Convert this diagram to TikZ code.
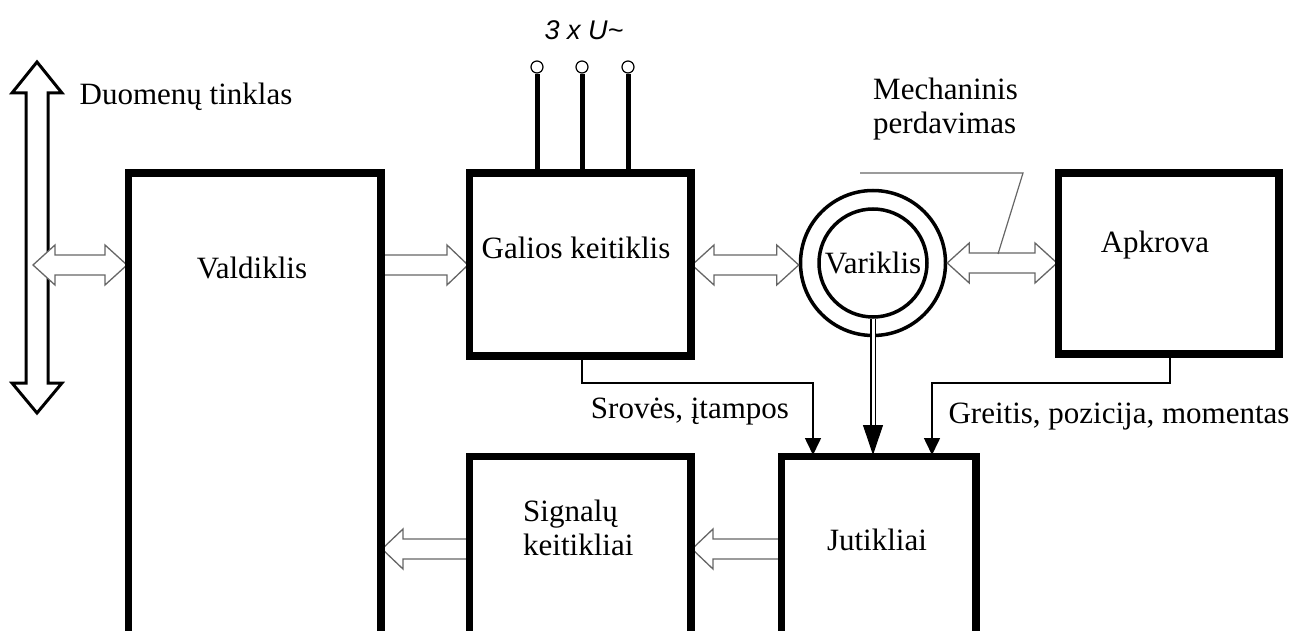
\documentclass[tikz,border=0pt]{standalone}
\usepackage{fontspec}
\setmainfont{Liberation Serif}
\newfontfamily\arialfont{Liberation Sans}
\usetikzlibrary{calc,arrows.meta}
% horizontal fat arrow: #1 start, #2 tip (same y)
\newcommand\fatSingle[2]{%
  \draw[fat] let \p1=(#1), \p2=(#2), \n1={sign(\x2-\x1)} in
   (\x1,\y1+10pt) -- (\x2-\n1*21pt,\y1+10pt) -- (\x2-\n1*21pt,\y1+20pt) -- (\x2,\y1)
   -- (\x2-\n1*21pt,\y1-20pt) -- (\x2-\n1*21pt,\y1-10pt) -- (\x1,\y1-10pt) -- cycle;}
% horizontal fat double arrow: #1 left tip, #2 right tip
\newcommand\fatDouble[2]{%
  \draw[fat] let \p1=(#1), \p2=(#2) in
   (\x1,\y1) -- (\x1+22pt,\y1+20pt) -- (\x1+22pt,\y1+10pt) -- (\x2-22pt,\y1+10pt)
   -- (\x2-22pt,\y1+20pt) -- (\x2,\y1) -- (\x2-22pt,\y1-20pt) -- (\x2-22pt,\y1-10pt)
   -- (\x1+22pt,\y1-10pt) -- (\x1+22pt,\y1-20pt) -- cycle;}
\begin{document}
\begin{tikzpicture}[x=1pt,y=-1pt,
  box/.style={draw,line width=5pt,inner sep=0pt,anchor=north west},
  fat/.style={draw=black!60,line width=1.3pt,fill=white,line join=miter},
  bigfat/.style={draw=black,line width=3pt,fill=white,line join=miter},
  lbl/.style={font=\fontsize{31}{34}\selectfont,inner sep=0pt},
  wire/.style={line width=1.6pt},
  sarrow/.style={-{Triangle[length=17pt,width=16pt]}},
  term/.style={circle,draw,line width=1.2pt,fill=white,minimum size=12pt,inner sep=0pt},
  ring/.style={circle,draw,line width=3.5pt,inner sep=0pt}
]
\path[use as bounding box] (0,0) rectangle (1294,631);
\clip (0,0) rectangle (1294,631);

% boxes (nodes)
\node[box,minimum width=250pt,minimum height=530pt] (val) at (127,172) {};
\node[box,minimum width=219pt,minimum height=180pt] (gal) at (468,172) {};
\node[box,minimum width=218pt,minimum height=178pt] (apk) at (1057,172) {};
\node[box,minimum width=192pt,minimum height=250pt] (jut) at (780,455) {};
\node[box,minimum width=219pt,minimum height=250pt] (sig) at (468,455) {};
\node[ring,minimum size=145pt] (mot) at (873,263) {};
\node[ring,minimum size=108pt] (rot) at (873,263) {};

% helper coordinates for arrow rows
\coordinate (row1) at (0,265);
\coordinate (row2) at (0,549);
\coordinate (busL) at (33,265);

% big vertical data-bus arrow
\draw[bigfat] (37,62) -- (62,93) -- (48,93) -- (48,383) -- (62,383) -- (37,413)
  -- (12,383) -- (26,383) -- (26,93) -- (12,93) -- cycle;

% fat arrows
\fatDouble{busL}{val.west |- row1}
\fatSingle{val.east |- row1}{gal.west |- row1}
\fatDouble{gal.east |- row1}{mot.west}
\fatDouble{mot.east}{apk.west |- row1}
\fatSingle{jut.west |- row2}{sig.east |- row2}
\fatSingle{sig.west |- row2}{val.east |- row2}

% redraw box borders on top of arrow ends
\foreach \b in {val,gal,apk,jut,sig}{\draw[line width=5pt] (\b.south west) rectangle (\b.north east);}

% three-phase supply
\node[term] (t1) at (537,67) {};
\node[term] (t2) at (582,67) {};
\node[term] (t3) at (628,67) {};
\foreach \t in {t1,t2,t3}{\draw[line width=5pt] (\t.south) -- (\t.south |- gal.north);}
\node[font=\arialfont\itshape\fontsize{27}{30}\selectfont,inner sep=0pt] (u) at (584,30) {3 x U\char"007E};

% motor to sensors (double line)
\coordinate (mh) at (873,425);
\draw[double,double distance=3pt,line width=1.2pt] (rot.south) -- (mh);
\draw[line width=1pt,-{Triangle[length=30pt,width=20pt]}] (mh) -- (mh |- jut.north);

% current/voltage feedback
\coordinate (sA) at (582,383);
\coordinate (sB) at (813,383);
\draw[wire,sarrow] (sA |- gal.south) -- (sA) -- (sB) -- (sB |- jut.north);
% speed/position feedback
\coordinate (gA) at (1170,383);
\coordinate (gB) at (932,383);
\draw[wire,sarrow] (gA |- apk.south) -- (gA) -- (gB) -- (gB |- jut.north);

% mechanical transmission leader
\coordinate (m1) at (860,173);
\coordinate (m2) at (1023,173);
\coordinate (m3) at (998,254);
\draw[draw=black!60,line width=1.2pt] (m1) -- (m2) -- (m3);

% labels
\node[lbl] (tDuo) at (186,97) {Duomenų tinklas};
\node[lbl] (tVal) at (252,268) {Valdiklis};
\node[lbl] (tGal) at (576,248) {Galios keitiklis};
\node[lbl] (tVar) at (873,263) {Variklis};
\node[lbl] (tApk) at (1155,245) {Apkrova};
\node[lbl,align=left,anchor=north west] (tMech) at (873,78) {Mechaninis\\perdavimas};
\node[lbl] (tSro) at (690,412) {Srovės, įtampos};
\node[lbl] (tGre) at (1119,417) {Greitis, pozicija, momentas};
\node[lbl,align=left,anchor=north west] (tSig) at (523,500) {Signalų\\keitikliai};
\node[lbl] (tJut) at (877,540) {Jutikliai};
\end{tikzpicture}
\end{document}
